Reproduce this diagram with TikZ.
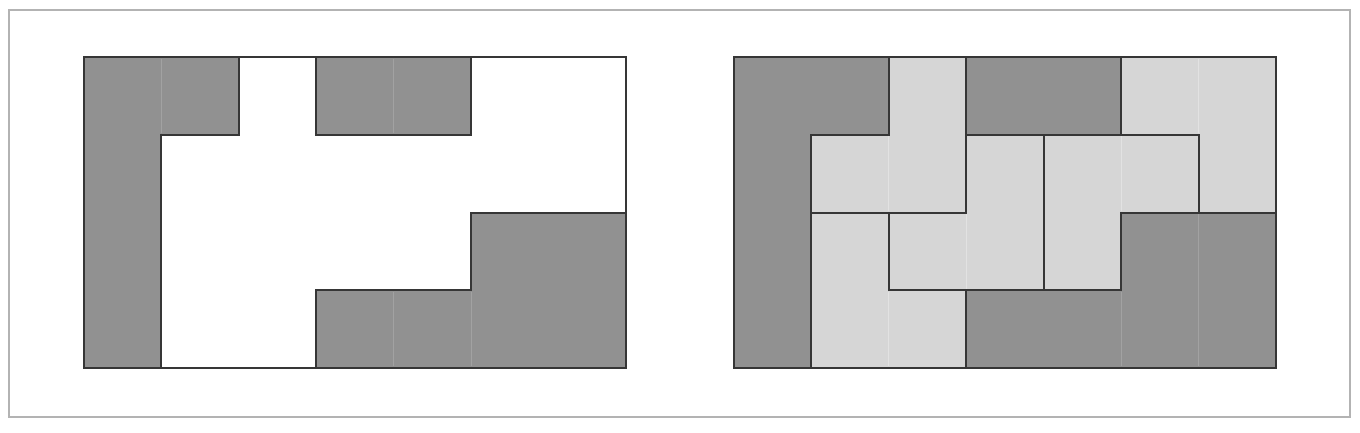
\documentclass[tikz,border=0pt]{standalone}
\usetikzlibrary{calc}
\definecolor{darkfill}{HTML}{919191}
\definecolor{lightfill}{HTML}{D6D6D6}
\definecolor{darkseam}{HTML}{A2A2A2}
\definecolor{lightseam}{HTML}{E2E2E2}
\definecolor{edgecol}{HTML}{363636}
\definecolor{framecol}{HTML}{B3B3B3}
\tikzset{
  piece/.style={draw=edgecol, line width=2pt, line join=miter},
  darkpiece/.style={piece, fill=darkfill},
  lightpiece/.style={piece, fill=lightfill},
  dseam/.style={draw=darkseam, line width=1pt},
  lseam/.style={draw=lightseam, line width=1pt},
  outer/.style={draw=edgecol, line width=2pt},
  frame/.style={draw=framecol, line width=1.5pt}
}
\begin{document}
\begin{tikzpicture}[x=1pt,y=-1pt]
\useasboundingbox (0,0) rectangle (1360,432);
\fill[white] (0,0) rectangle (1360,432);
\draw[frame] (9,10) rectangle (1350,417);

% left grid
\begin{scope}[shift={(84,57)}, x=77.43pt, y=-77.75pt]
  \path[darkpiece] (0,0) -- (2,0) -- (2,1) -- (1,1) -- (1,4) -- (0,4) -- cycle;
  \path[darkpiece] (3,0) -- (5,0) -- (5,1) -- (3,1) -- cycle;
  \path[darkpiece] (5,2) -- (7,2) -- (7,4) -- (3,4) -- (3,3) -- (5,3) -- cycle;
  \draw[dseam] (1,0.02) -- (1,0.98);
  \draw[dseam] (4,0.02) -- (4,0.98);
  \draw[dseam] (4,3.02) -- (4,3.98);
  \draw[dseam] (5,3.02) -- (5,3.98);
  \draw[outer] (0,0) rectangle (7,4);
\end{scope}

% right grid
\begin{scope}[shift={(734,57)}, x=77.43pt, y=-77.75pt]
  \path[darkpiece] (0,0) -- (2,0) -- (2,1) -- (1,1) -- (1,4) -- (0,4) -- cycle;
  \path[darkpiece] (3,0) -- (5,0) -- (5,1) -- (3,1) -- cycle;
  \path[darkpiece] (5,2) -- (7,2) -- (7,4) -- (3,4) -- (3,3) -- (5,3) -- cycle;
  \path[lightpiece] (2,0) -- (3,0) -- (3,2) -- (1,2) -- (1,1) -- (2,1) -- cycle;
  \path[lightpiece] (1,2) -- (2,2) -- (2,3) -- (3,3) -- (3,4) -- (1,4) -- cycle;
  \path[lightpiece] (3,1) -- (4,1) -- (4,3) -- (2,3) -- (2,2) -- (3,2) -- cycle;
  \path[lightpiece] (4,1) -- (6,1) -- (6,2) -- (5,2) -- (5,3) -- (4,3) -- cycle;
  \path[lightpiece] (5,0) -- (7,0) -- (7,2) -- (6,2) -- (6,1) -- (5,1) -- cycle;
  \draw[lseam] (2,1.02) -- (2,1.98);
  \draw[lseam] (2,3.02) -- (2,3.98);
  \draw[lseam] (3,2.02) -- (3,2.98);
  \draw[lseam] (5,1.02) -- (5,1.98);
  \draw[lseam] (6,0.02) -- (6,0.98);
  \draw[dseam] (5,3.02) -- (5,3.98);
  \draw[dseam] (6,2.02) -- (6,3.98);
  % redraw piece edges on top of seams
  \path[piece] (2,0) -- (3,0) -- (3,2) -- (1,2) -- (1,1) -- (2,1) -- cycle;
  \path[piece] (1,2) -- (2,2) -- (2,3) -- (3,3) -- (3,4) -- (1,4) -- cycle;
  \path[piece] (3,1) -- (4,1) -- (4,3) -- (2,3) -- (2,2) -- (3,2) -- cycle;
  \path[piece] (4,1) -- (6,1) -- (6,2) -- (5,2) -- (5,3) -- (4,3) -- cycle;
  \path[piece] (5,0) -- (7,0) -- (7,2) -- (6,2) -- (6,1) -- (5,1) -- cycle;
  \path[piece] (5,2) -- (7,2) -- (7,4) -- (3,4) -- (3,3) -- (5,3) -- cycle;
  \draw[outer] (0,0) rectangle (7,4);
\end{scope}
\end{tikzpicture}
\end{document}
